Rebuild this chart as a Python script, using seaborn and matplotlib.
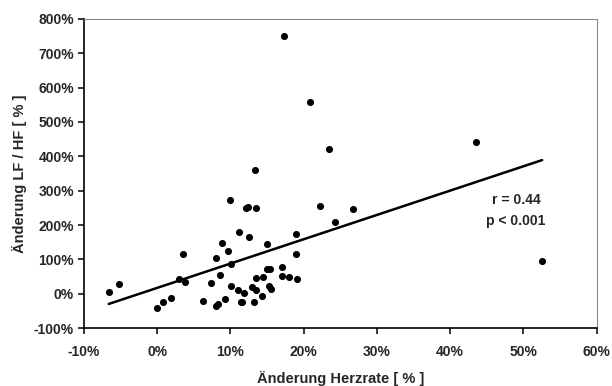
import numpy as np
import pandas as pd
import matplotlib
matplotlib.use("Agg")
import matplotlib.pyplot as plt
from matplotlib.ticker import FuncFormatter
import seaborn as sns

# Change in heart rate [%] per subject
herzrate = [-6.6, -5.2, 0.0, 0.85, 1.9, 3.0, 3.6, 3.8, 6.3, 7.3, 8.0, 8.1, 8.35, 8.6,
            8.9, 9.2, 9.7, 10.0, 10.05, 10.1, 11.1, 11.2, 11.4, 11.6, 11.8, 12.1,
            12.4, 12.55, 12.9, 13.2, 13.35, 13.45, 13.45, 13.55, 14.3, 14.5, 14.95,
            15.0, 15.4, 15.3, 15.6, 17.0, 17.0, 17.3, 18.0, 18.9, 18.9, 19.1, 20.85,
            22.3, 23.4, 24.3, 26.8, 43.5, 52.55]
# Change in LF/HF ratio [%] per subject
lf_hf = [6, 27, -42, -23, -12, 43, 117, 33, -21, 30, 103, -36, -30, 55,
         148, -14, 124, 272, 87, 23, 10, 181, -25, -23, 2, 251,
         253, 166, 19, -25, 359, 251, 10, 45, -6, 50, 144,
         73, 73, 22, 13, 79, 52, 749, 49, 115, 174, 42, 559,
         255, 422, 209, 248, 441, 95]

# Linear fit (percent units) and its statistics
fit_intercept = 17.0
fit_slope = 7.08
stats_text = ["r = 0.44", "p < 0.001"]

x_ticks = [-10, 0, 10, 20, 30, 40, 50, 60]
y_ticks = [-100, 0, 100, 200, 300, 400, 500, 600, 700, 800]

df = pd.DataFrame({"x": herzrate, "y": lf_hf})
x_fit = np.array([min(herzrate), max(herzrate)])
fit_df = pd.DataFrame({"x": x_fit, "y": fit_intercept + fit_slope * x_fit})

sns.set_theme(style="white")
plt.rcParams["font.family"] = ["Liberation Sans", "DejaVu Sans"]
plt.rcParams["font.weight"] = "bold"

fig = plt.figure(figsize=(6.12, 3.86), dpi=100)
ax = fig.add_axes([0.137, 0.150, 0.838, 0.801])

sns.scatterplot(data=df, x="x", y="y", ax=ax, color="black", s=26,
                edgecolor="black", linewidth=0, zorder=3)
sns.lineplot(data=fit_df, x="x", y="y", ax=ax, color="black", linewidth=1.8,
             zorder=2)

ax.set_xlim(x_ticks[0], x_ticks[-1])
ax.set_ylim(y_ticks[0], y_ticks[-1])
ax.set_xticks(x_ticks)
ax.set_yticks(y_ticks)
pct = FuncFormatter(lambda v, p: f"{v:.0f}%")
ax.xaxis.set_major_formatter(pct)
ax.yaxis.set_major_formatter(pct)

ax.tick_params(axis="both", which="major", direction="out", length=4, width=1.1,
               color="black", labelsize=10, pad=3, bottom=True, left=True)
ax.tick_params(axis="x", pad=8)
for lab in ax.get_xticklabels() + ax.get_yticklabels():
    lab.set_fontweight("bold")

for side in ("left", "bottom"):
    ax.spines[side].set_color("black")
    ax.spines[side].set_linewidth(1.2)
for side in ("top", "right"):
    ax.spines[side].set_color("#888888")
    ax.spines[side].set_linewidth(0.8)
    ax.spines[side].set_linestyle((0, (2, 1)))

ax.set_xlabel("Änderung Herzrate [ % ]", fontsize=10.5, fontweight="bold", labelpad=9)
ax.set_ylabel("Änderung LF / HF [ % ]", fontsize=10.5, fontweight="bold", labelpad=5)

ax.text(49, 273, stats_text[0], ha="center", va="center", fontsize=10, fontweight="bold")
ax.text(49, 213, stats_text[1], ha="center", va="center", fontsize=10, fontweight="bold")

fig.savefig("out.png", dpi=100)
